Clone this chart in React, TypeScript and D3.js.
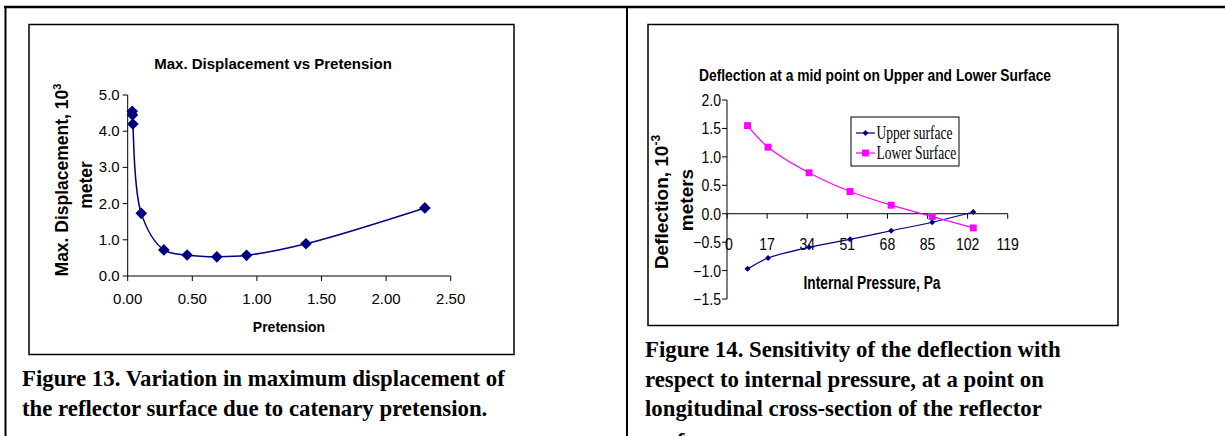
import * as d3 from "d3";

// Figure 13 data
const pretension = [0.035, 0.037, 0.04, 0.105, 0.28, 0.46, 0.69, 0.92, 1.38, 2.3];
const maxDisplacement = [4.55, 4.45, 4.2, 1.73, 0.72, 0.58, 0.53, 0.57, 0.89, 1.88];
const dispTicks = [0, 1, 2, 3, 4, 5];
const pretTicks = [0, 0.5, 1, 1.5, 2, 2.5];

// Figure 14 data
const pressure = [8.7, 17.4, 34.8, 52.2, 69.6, 87, 104.4];
const upperSurface = [-0.97, -0.78, -0.59, -0.45, -0.3, -0.15, 0.03];
const lowerSurface = [1.55, 1.17, 0.72, 0.39, 0.15, -0.05, -0.25];
const pressureTicks = [0, 17, 34, 51, 68, 85, 102, 119];
const deflTicks = [-1.5, -1, -0.5, 0, 0.5, 1, 1.5, 2];

const captionLeft = [
  "Figure 13. Variation in maximum displacement of",
  "the reflector surface due to catenary pretension.",
];
const captionRight = [
  "Figure 14. Sensitivity of the deflection with",
  "respect to internal pressure, at a point on",
  "longitudinal cross-section of the reflector",
  "surface.",
];

const NAVY = "#000080";
const PINK = "#FF00FF";
const SANS = "'Liberation Sans', Arial, sans-serif";
const SERIF = "'Liberation Serif', 'Times New Roman', serif";

// condensed text used on the right chart
const CText = ({ x, y, sx = 0.85, anchor = "middle", size = 15, weight = "normal", family = SANS, children }: any) => (
  <text
    transform={`translate(${x},${y}) scale(${sx},1)`}
    textAnchor={anchor}
    fontSize={size}
    fontWeight={weight}
    fontFamily={family}
    fill="#000"
  >
    {children}
  </text>
);

export default function App() {
  // ---- left chart scales
  const xL = d3.scaleLinear().domain([0, 2.5]).range([127.7, 450.7]);
  const yL = d3.scaleLinear().domain([0, 5]).range([276, 95]);
  const leftPts = pretension.map((p, i) => [xL(p), yL(maxDisplacement[i])] as [number, number]);
  const leftLine = d3.line().curve(d3.curveCatmullRom.alpha(0.5))(leftPts) || "";
  const bigDiamond = d3.symbol().type(d3.symbolSquare).size(68)() || "";

  // ---- right chart scales
  const xR = d3.scaleLinear().domain([0, 119]).range([727, 1007.7]);
  const yR = d3.scaleLinear().domain([-1.5, 2]).range([299, 100]);
  const upperPts = pressure.map((p, i) => [xR(p), yR(upperSurface[i])] as [number, number]);
  const lowerPts = pressure.map((p, i) => [xR(p), yR(lowerSurface[i])] as [number, number]);
  const upperPath = d3.line().curve(d3.curveCatmullRom.alpha(0.5))(upperPts) || "";
  const lowerPath = d3.line().curve(d3.curveCatmullRom.alpha(0.5))(lowerPts) || "";
  const smallDiamond = d3.symbol().type(d3.symbolSquare).size(18)() || "";
  const square = d3.symbol().type(d3.symbolSquare).size(48)() || "";

  const fmt1 = d3.format(".1f");
  const fmt2 = d3.format(".2f");

  return (
    <svg
      width={1225}
      height={436}
      style={{ position: "absolute", left: 0, top: 0, background: "#fff" }}
    >
      <rect width={1225} height={436} fill="#fff" />
      {/* page table borders */}
      <line x1={4} x2={1225} y1={7} y2={7} stroke="#000" strokeWidth={2.5} />
      <line x1={5.5} x2={5.5} y1={6} y2={436} stroke="#000" strokeWidth={2} />
      <line x1={627} x2={627} y1={6} y2={436} stroke="#000" strokeWidth={2} />

      {/* ================= LEFT CHART ================= */}
      <rect x={29} y={24.5} width={485} height={330} fill="#fff" stroke="#000" strokeWidth={1.5} />
      <text x={273} y={69} textAnchor="middle" fontFamily={SANS} fontWeight="bold" fontSize={15}>
        Max. Displacement vs Pretension
      </text>

      {/* y axis */}
      <line x1={xL(0)} x2={xL(0)} y1={yL(5)} y2={yL(0)} stroke="#000" />
      {dispTicks.map((t) => (
        <g key={"ly" + t}>
          <line x1={xL(0) - 5} x2={xL(0)} y1={yL(t)} y2={yL(t)} stroke="#000" />
          <text x={xL(0) - 8} y={yL(t) + 5} textAnchor="end" fontFamily={SANS} fontSize={15}>
            {fmt1(t)}
          </text>
        </g>
      ))}
      {/* x axis */}
      <line x1={xL(0)} x2={xL(2.5)} y1={yL(0)} y2={yL(0)} stroke="#000" />
      {pretTicks.map((t) => (
        <g key={"lx" + t}>
          <line x1={xL(t)} x2={xL(t)} y1={yL(0)} y2={yL(0) + 5} stroke="#000" />
          <text x={xL(t)} y={304} textAnchor="middle" fontFamily={SANS} fontSize={15}>
            {fmt2(t)}
          </text>
        </g>
      ))}
      <text x={289} y={332} textAnchor="middle" fontFamily={SANS} fontWeight="bold" fontSize={14}>
        Pretension
      </text>
      <text
        transform="translate(68,180) rotate(-90)"
        textAnchor="middle"
        fontFamily={SANS}
        fontWeight="bold"
        fontSize={17.5}
      >
        Max. Displacement, 10
        <tspan dy={-7} fontSize={11}>3</tspan>
      </text>
      <text
        transform="translate(92,185) rotate(-90)"
        textAnchor="middle"
        fontFamily={SANS}
        fontWeight="bold"
        fontSize={17.5}
      >
        meter
      </text>

      <path d={leftLine} fill="none" stroke={NAVY} strokeWidth={1.5} />
      {leftPts.map(([x, y], i) => (
        <path key={"ld" + i} d={bigDiamond} transform={`translate(${x},${y}) rotate(45)`} fill={NAVY} />
      ))}

      {captionLeft.map((s, i) => (
        <text key={"cl" + i} x={22} y={386 + i * 29.5} fontFamily={SERIF} fontWeight="bold" fontSize={22.8}>
          {s}
        </text>
      ))}

      {/* ================= RIGHT CHART ================= */}
      <rect x={648} y={24.5} width={470} height={301} fill="#fff" stroke="#000" strokeWidth={1.5} />
      <text
        x={875}
        y={81}
        textAnchor="middle"
        fontFamily={SANS}
        fontWeight="bold"
        fontSize={17}
        textLength={352}
        lengthAdjust="spacingAndGlyphs"
      >
        Deflection at a mid point on Upper and Lower Surface
      </text>

      {/* y axis */}
      <line x1={xR(0)} x2={xR(0)} y1={yR(2)} y2={yR(-1.5)} stroke="#000" />
      {deflTicks.map((t) => (
        <g key={"ry" + t}>
          <line x1={xR(0) - 5} x2={xR(0)} y1={yR(t)} y2={yR(t)} stroke="#000" />
          <CText x={xR(0) - 6} y={yR(t) + 6} anchor="end" size={16.5}>
            {fmt1(t)}
          </CText>
        </g>
      ))}
      {/* x axis at zero */}
      <line x1={xR(0)} x2={xR(119)} y1={yR(0)} y2={yR(0)} stroke="#000" />
      {pressureTicks.map((t) => (
        <g key={"rx" + t}>
          <line x1={xR(t)} x2={xR(t)} y1={yR(0)} y2={yR(0) + 5} stroke="#000" />
          <CText x={xR(t) + (t === 0 ? 2 : 0)} y={249.5} size={16.5}>
            {String(t)}
          </CText>
        </g>
      ))}
      <text
        x={872}
        y={289}
        textAnchor="middle"
        fontFamily={SANS}
        fontWeight="bold"
        fontSize={18}
        textLength={137}
        lengthAdjust="spacingAndGlyphs"
      >
        Internal Pressure, Pa
      </text>
      <text
        transform="translate(668,202) rotate(-90)"
        textAnchor="middle"
        fontFamily={SANS}
        fontWeight="bold"
        fontSize={19}
      >
        Deflection, 10
        <tspan dy={-8} fontSize={12}>-3</tspan>
      </text>
      <text
        transform="translate(693,200) rotate(-90)"
        textAnchor="middle"
        fontFamily={SANS}
        fontWeight="bold"
        fontSize={19}
      >
        meters
      </text>

      <path d={upperPath} fill="none" stroke={NAVY} strokeWidth={1.2} />
      <path d={lowerPath} fill="none" stroke={PINK} strokeWidth={1.2} />
      {upperPts.map(([x, y], i) => (
        <path key={"ud" + i} d={smallDiamond} transform={`translate(${x},${y}) rotate(45)`} fill={NAVY} />
      ))}
      {lowerPts.map(([x, y], i) => (
        <path key={"lq" + i} d={square} transform={`translate(${x},${y})`} fill={PINK} />
      ))}

      {/* legend */}
      <rect x={851} y={117} width={108} height={49} fill="#fff" stroke="#000" strokeWidth={1} />
      <line x1={856} x2={875} y1={133} y2={133} stroke={NAVY} strokeWidth={1.2} />
      <path d={smallDiamond} transform="translate(865.5,133) rotate(45)" fill={NAVY} />
      <CText x={876.5} y={139} anchor="start" size={18} sx={0.75} family={SERIF}>
        Upper surface
      </CText>
      <line x1={856} x2={875} y1={153} y2={153} stroke={PINK} strokeWidth={1.2} />
      <path d={square} transform="translate(865.5,153)" fill={PINK} />
      <CText x={876.5} y={159} anchor="start" size={18} sx={0.75} family={SERIF}>
        Lower Surface
      </CText>

      {captionRight.map((s, i) => (
        <text key={"cr" + i} x={645} y={357 + i * 29.5 + (i === 3 ? 3 : 0)} fontFamily={SERIF} fontWeight="bold" fontSize={22.8}>
          {s}
        </text>
      ))}
    </svg>
  );
}
